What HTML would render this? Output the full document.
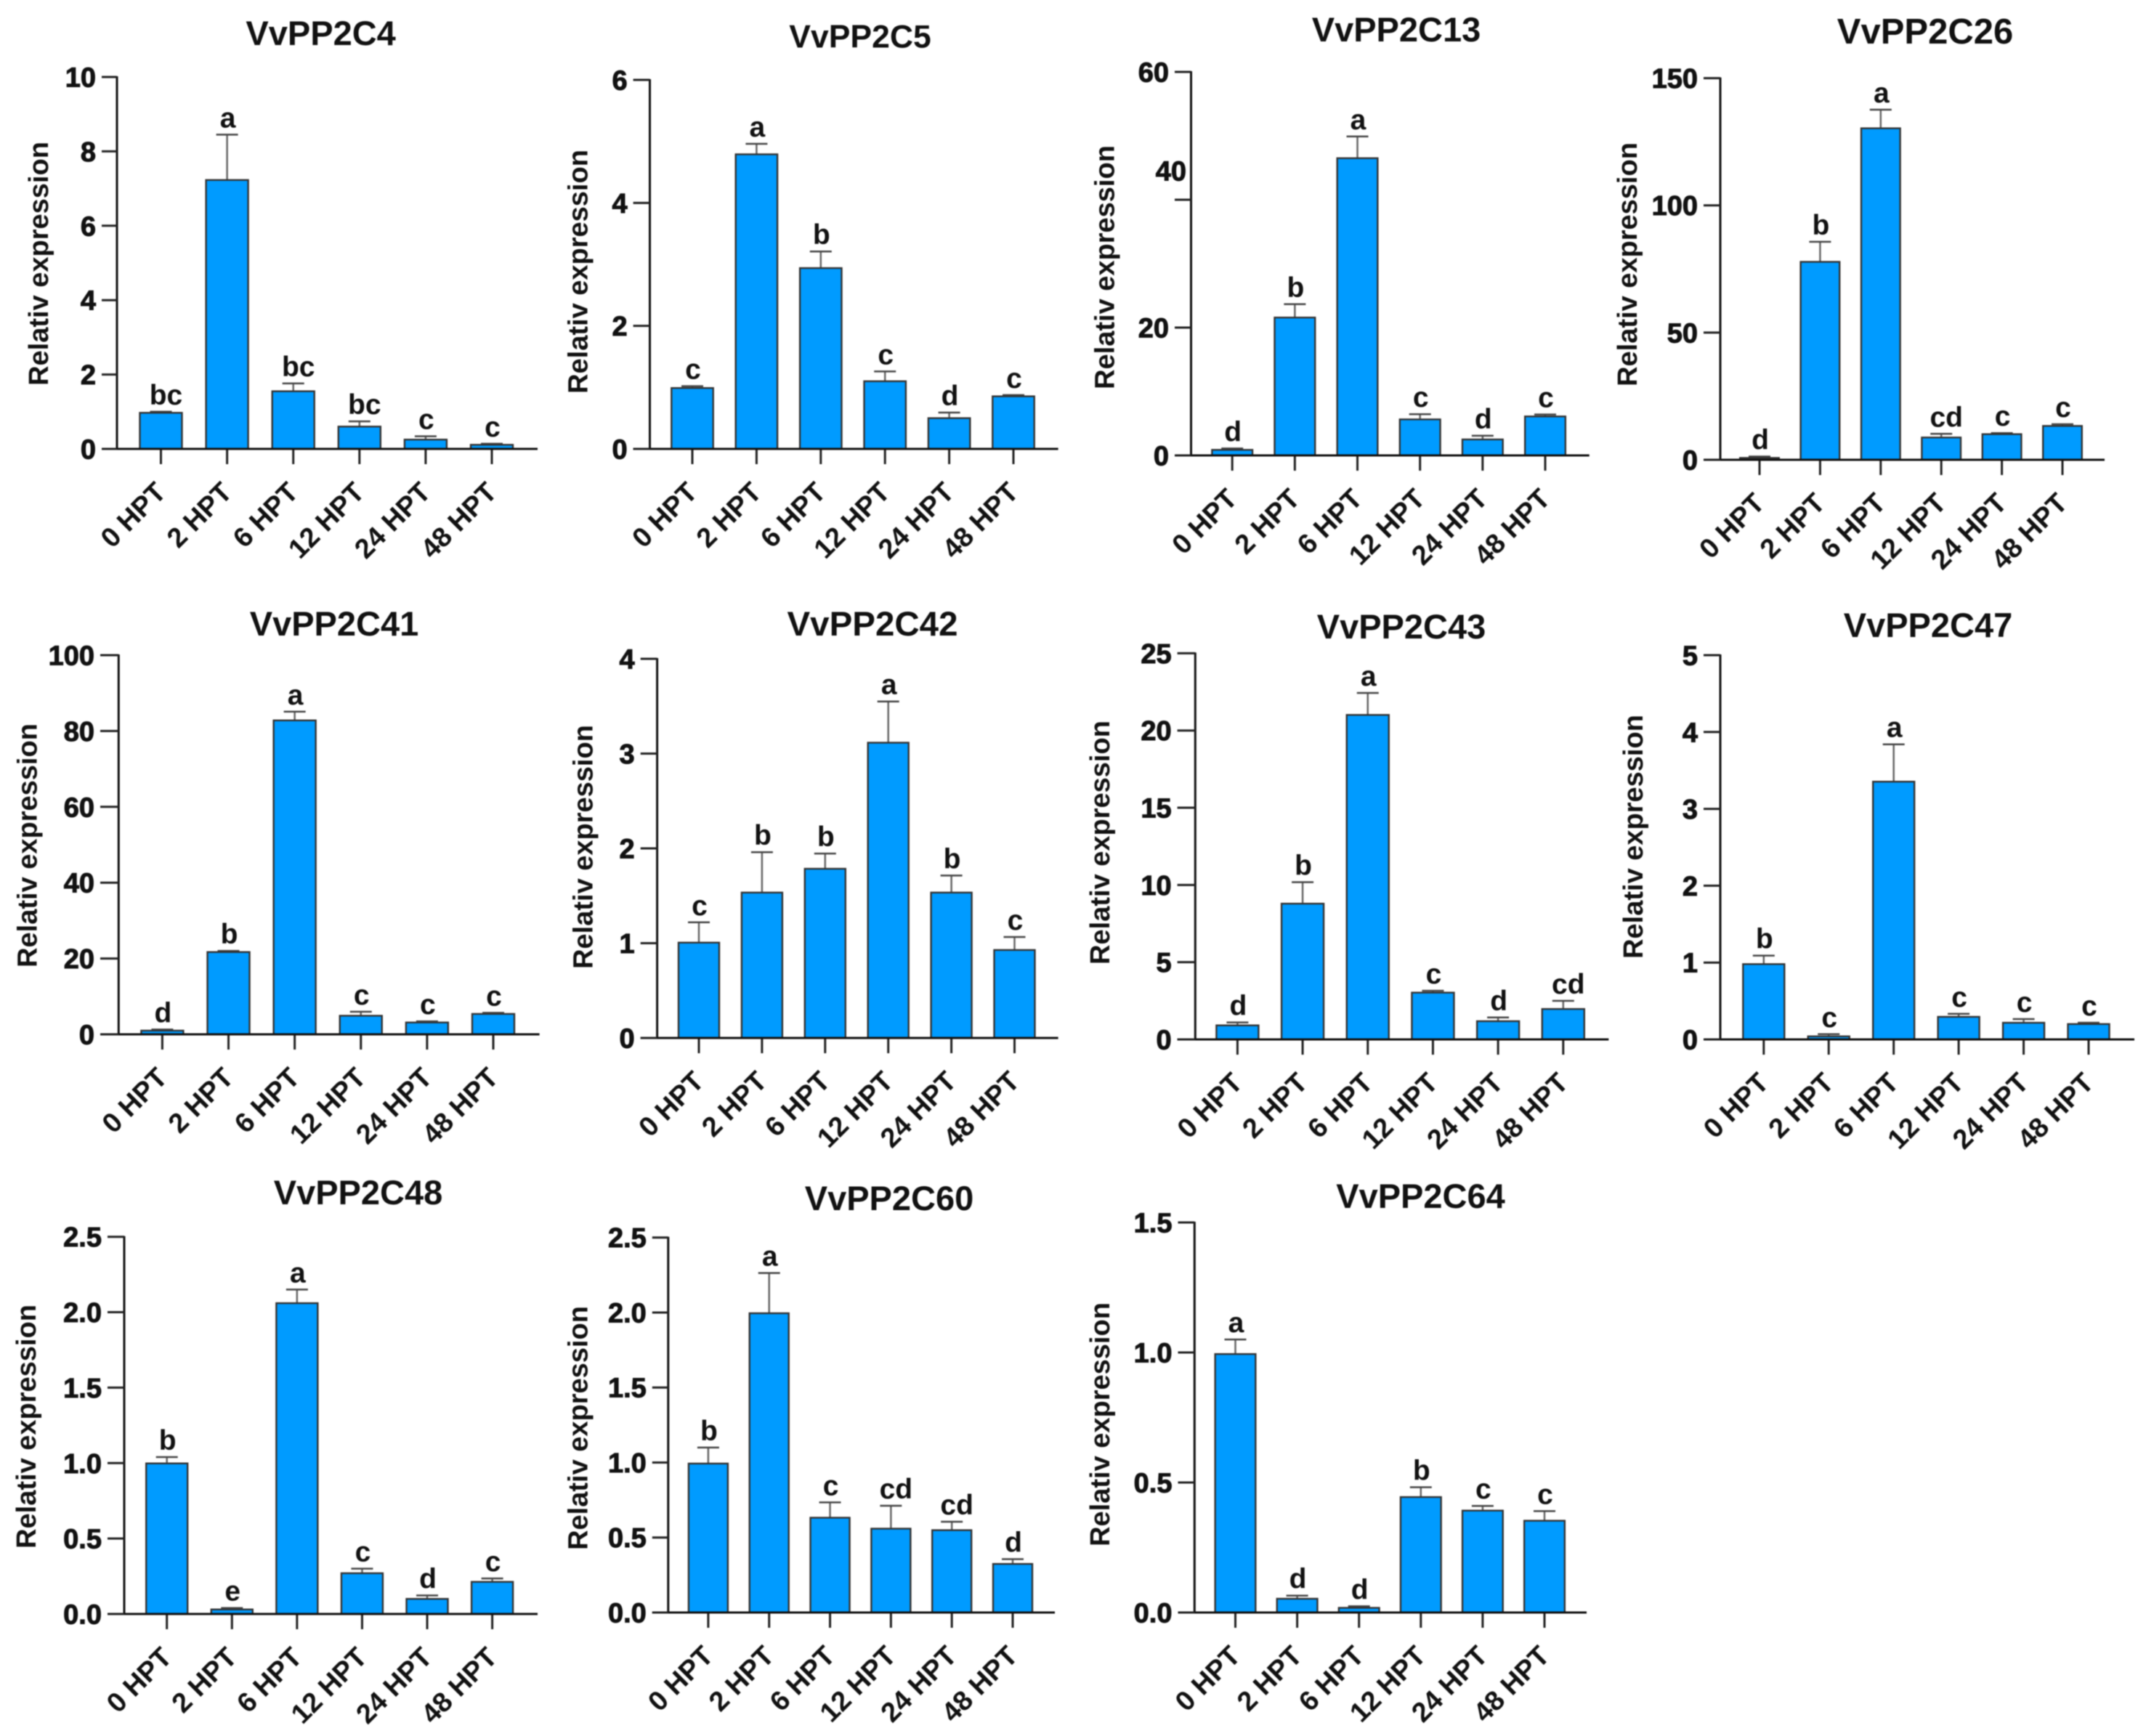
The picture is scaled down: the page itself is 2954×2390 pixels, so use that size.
<!DOCTYPE html>
<html lang="en">
<head>
<meta charset="utf-8">
<title>VvPP2C relative expression</title>
<style>
html,body{margin:0;padding:0;background:#fff;}
svg{display:block;filter:blur(0.8px);}
text{font-family:"Liberation Sans",Arial,sans-serif;font-weight:bold;fill:#111;}
</style>
</head>
<body>
<svg id="figure" width="2954" height="2390" viewBox="0 0 2954 2390" xmlns="http://www.w3.org/2000/svg"></svg>
<script>
const categories = ["0 HPT","2 HPT","6 HPT","12 HPT","24 HPT","48 HPT"];
const yAxisTitle = "Relativ expression";

const ticksC4 = ["10","8","6","4","2","0"];
const valuesC4 = [0.97,7.23,1.55,0.6,0.25,0.11];
const errorTopsC4 = [1.0,8.45,1.76,0.74,0.34,0.14];
const lettersC4 = ["bc","a","bc","bc","c","c"];

const ticksC5 = ["6","4","2","0"];
const valuesC5 = [0.99,4.79,2.94,1.1,0.5,0.855];
const errorTopsC5 = [1.02,4.96,3.21,1.26,0.59,0.875];
const lettersC5 = ["c","a","b","c","d","c"];

const ticksC13 = ["60","40","20","0"];
const valuesC13 = [0.87,21.57,46.5,5.64,2.5,6.1];
const errorTopsC13 = [1.1,23.66,49.9,6.45,3.08,6.4];
const lettersC13 = ["d","b","a","c","d","c"];

const ticksC26 = ["150","100","50","0"];
const valuesC26 = [0.73,77.8,130.3,8.76,10.07,13.3];
const errorTopsC26 = [1.3,85.7,137.6,10.2,10.5,14.0];
const lettersC26 = ["d","b","a","cd","c","c"];

const ticksC41 = ["100","80","60","40","20","0"];
const valuesC41 = [0.98,21.7,82.8,4.9,3.13,5.38];
const errorTopsC41 = [1.27,22,85.1,5.96,3.42,5.67];
const lettersC41 = ["d","b","a","c","c","c"];

const ticksC42 = ["4","3","2","1","0"];
const valuesC42 = [1.006,1.534,1.785,3.115,1.534,0.928];
const errorTopsC42 = [1.22,1.96,1.945,3.55,1.714,1.065];
const lettersC42 = ["c","b","b","a","b","c"];

const ticksC43 = ["25","20","15","10","5","0"];
const valuesC43 = [0.91,8.79,21.01,3.03,1.18,1.97];
const errorTopsC43 = [1.1,10.18,22.43,3.15,1.42,2.5];
const lettersC43 = ["d","b","a","c","d","cd"];

const ticksC47 = ["5","4","3","2","1","0"];
const valuesC47 = [0.98,0.04,3.354,0.294,0.217,0.2];
const errorTopsC47 = [1.09,0.068,3.84,0.333,0.265,0.217];
const lettersC47 = ["b","c","a","c","c","c"];

const ticksC48 = ["2.5","2.0","1.5","1.0","0.5","0.0"];
const valuesC48 = [0.998,0.03,2.06,0.27,0.1,0.213];
const errorTopsC48 = [1.04,0.04,2.15,0.3,0.123,0.235];
const lettersC48 = ["b","e","a","c","d","c"];

const ticksC60 = ["2.5","2.0","1.5","1.0","0.5","0.0"];
const valuesC60 = [0.993,1.995,0.632,0.559,0.549,0.324];
const errorTopsC60 = [1.1,2.263,0.734,0.712,0.605,0.356];
const lettersC60 = ["b","a","c","cd","cd","d"];

const ticksC64 = ["1.5","1.0","0.5","0.0"];
const valuesC64 = [0.994,0.053,0.018,0.444,0.392,0.353];
const errorTopsC64 = [1.05,0.065,0.024,0.482,0.41,0.39];
const lettersC64 = ["a","d","d","b","c","c"];

const charts = [
  {id:"vvpp2c4", title:"VvPP2C4", ticks:ticksC4, values:valuesC4, errs:errorTopsC4, letters:lettersC4,
   box:{ax:161,top:106,zero:618,end:740,left:140,first:221.5,last:677,bw:58,ytx:52,yty:363,tx:441.6,ty:45,ts:47}},
  {id:"vvpp2c5", title:"VvPP2C5", ticks:ticksC5, values:valuesC5, errs:errorTopsC5, letters:lettersC5,
   box:{ax:894.5,top:110,zero:618,end:1456.6,left:871.6,first:953,last:1395,bw:57.4,ytx:794.4,yty:374,tx:1184,ty:48.7,ts:44.5}},
  {id:"vvpp2c13", title:"VvPP2C13", ticks:ticksC13, values:valuesC13, errs:errorTopsC13, letters:lettersC13,
   box:{ax:1639.5,top:99,zero:627,end:2187.7,left:1617,first:1696.2,last:2127,bw:55.7,ytx:1519.7,yty:368,tx:1922,ty:40,ts:47,nudge:{1:[24,-40]}}},
  {id:"vvpp2c26", title:"VvPP2C26", ticks:ticksC26, values:valuesC26, errs:errorTopsC26, letters:lettersC26,
   box:{ax:2368,top:107.6,zero:633,end:2897,left:2345,first:2422,last:2839,bw:53.6,ytx:2239,yty:364,tx:2650,ty:43,ts:49}},
  {id:"vvpp2c41", title:"VvPP2C41", ticks:ticksC41, values:valuesC41, errs:errorTopsC41, letters:lettersC41,
   box:{ax:163.3,top:902,zero:1424,end:742.6,left:138,first:223.4,last:679,bw:58,ytx:36.4,yty:1164,tx:460,ty:858,ts:47}},
  {id:"vvpp2c42", title:"VvPP2C42", ticks:ticksC42, values:valuesC42, errs:errorTopsC42, letters:lettersC42,
   box:{ax:904.6,top:907,zero:1429,end:1456.6,left:881.7,first:962,last:1396.5,bw:56,ytx:801.3,yty:1166,tx:1201,ty:858,ts:47.5}},
  {id:"vvpp2c43", title:"VvPP2C43", ticks:ticksC43, values:valuesC43, errs:errorTopsC43, letters:lettersC43,
   box:{ax:1645.3,top:899.4,zero:1431,end:2214.3,left:1620.6,first:1703.4,last:2151.8,bw:58,ytx:1513,yty:1160,tx:1929,ty:862,ts:47}},
  {id:"vvpp2c47", title:"VvPP2C47", ticks:ticksC47, values:valuesC47, errs:errorTopsC47, letters:lettersC47,
   box:{ax:2368,top:902,zero:1431,end:2938,left:2345,first:2427.8,last:2875,bw:57,ytx:2247,yty:1152,tx:2654,ty:860,ts:47}},
  {id:"vvpp2c48", title:"VvPP2C48", ticks:ticksC48, values:valuesC48, errs:errorTopsC48, letters:lettersC48,
   box:{ax:171,top:1702.7,zero:2222,end:740,left:148,first:229.7,last:677.6,bw:57,ytx:35,yty:1964,tx:493,ty:1641,ts:47}},
  {id:"vvpp2c60", title:"VvPP2C60", ticks:ticksC60, values:valuesC60, errs:errorTopsC60, letters:lettersC60,
   box:{ax:919.8,top:1703.7,zero:2220,end:1452,left:897.8,first:974.9,last:1394,bw:54,ytx:794.4,yty:1966,tx:1224,ty:1649,ts:47}},
  {id:"vvpp2c64", title:"VvPP2C64", ticks:ticksC64, values:valuesC64, errs:errorTopsC64, letters:lettersC64,
   box:{ax:1644.3,top:1683,zero:2220,end:2184,left:1621.5,first:1700.5,last:2126,bw:55.7,ytx:1513,yty:1961,tx:1955.5,ty:1646,ts:47}}
];

const NS = "http://www.w3.org/2000/svg";
const figure = document.getElementById("figure");

function make(parent, tag, attrs, txt){
  const node = document.createElementNS(NS, tag);
  for (const k in attrs) node.setAttribute(k, attrs[k]);
  if (txt !== undefined) node.textContent = txt;
  parent.appendChild(node);
  return node;
}

function drawChart(c){
  const b = c.box;
  const maxV = parseFloat(c.ticks[0]);
  const minV = parseFloat(c.ticks[c.ticks.length-1]);
  const yScale = v => b.zero - (v-minV)/(maxV-minV)*(b.zero-b.top);
  const xScale = i => b.first + i*(b.last-b.first)/(categories.length-1);

  const g = make(figure,"g",{});
  
  

  const title = make(g,"text",{x:b.tx,y:b.ty+17,"text-anchor":"middle","font-size":b.ts},c.title);
  
  

  const yTitle = make(g,"text",{x:0,y:0,"text-anchor":"middle","font-size":38,
    transform:"translate("+(b.ytx+14)+" "+b.yty+") rotate(-90)"},yAxisTitle);
  
  

  c.values.forEach(function(v,i){
    const cx = xScale(i);
    const yTop = yScale(v);
    const yErr = yScale(c.errs[i]);

    const stem = make(g,"line",{x1:cx,x2:cx,y1:yErr,y2:yTop,stroke:"#666","stroke-width":2.5});
    
    

    const cap = make(g,"line",{x1:cx-15,x2:cx+15,y1:yErr,y2:yErr,stroke:"#444","stroke-width":2.5});
    
    

    const bar = make(g,"rect",{x:cx-b.bw/2,y:yTop,width:b.bw,height:Math.max(b.zero-yTop,0),
      fill:"#009bff",stroke:"#333","stroke-width":2.4});
    
    

    const letter = make(g,"text",{x:cx+(c.letters[i].length>1?7:1),y:yErr-10,"text-anchor":"middle","font-size":39},c.letters[i]);
    
    

    const xTick = make(g,"line",{x1:cx,x2:cx,y1:b.zero,y2:b.zero+21,stroke:"#222","stroke-width":3});
    
    

    const lx = cx+9, ly = b.zero+62;
    const xLabel = make(g,"text",{x:0,y:0,"text-anchor":"end","font-size":38,
      transform:"translate("+lx+" "+ly+") rotate(-45)"},categories[i]);
    
    
  });

  const yAxis = make(g,"line",{x1:b.ax,x2:b.ax,y1:b.top-1,y2:b.zero+1,stroke:"#111","stroke-width":3});
  
  

  const xAxis = make(g,"line",{x1:b.left,x2:b.end,y1:b.zero,y2:b.zero,stroke:"#111","stroke-width":3});
  
  

  c.ticks.forEach(function(t,i){
    const ty = yScale(parseFloat(t));
    const yTick = make(g,"line",{x1:b.left,x2:b.ax,y1:ty,y2:ty,stroke:"#222","stroke-width":3});
    
    

    const n = (b.nudge && b.nudge[i]) ? b.nudge[i] : [0,0];
    const yLabel = make(g,"text",{x:b.left-8+n[0],y:ty+13.5+n[1],"text-anchor":"end","font-size":38,
      stroke:"#111","stroke-width":1},t);
    
    
  });
}

charts.forEach(drawChart);
</script>
</body>
</html>
